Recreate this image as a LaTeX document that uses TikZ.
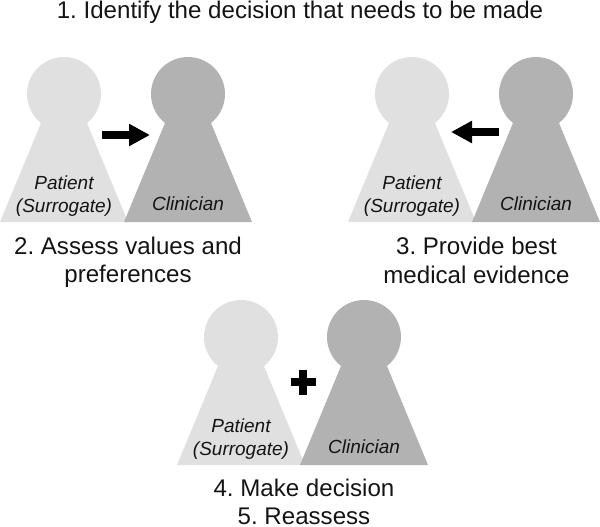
\documentclass[tikz,border=0pt]{standalone}
\usepackage{fontspec}
\setmainfont{Liberation Sans}
\usetikzlibrary{arrows.meta}
\tikzset{
  patientfill/.style={fill=black!12},
  clinicianfill/.style={fill=black!30},
  caption/.style={font=\frenchspacing\fontsize{24.1}{28.5}\selectfont,align=center,text=black!92,inner sep=0pt},
  role/.style={font=\frenchspacing\fontsize{19}{23.5}\selectfont\itshape,align=center,text=black!92,inner sep=0pt},
  flow/.style={line width=8pt,-{Triangle[length=21pt,width=21pt]}},
  plusbar/.style={line width=8pt}
}
\begin{document}
\begin{tikzpicture}[x=1pt,y=-1pt]
\useasboundingbox (0,0) rectangle (600,527);
% Two pawn figures side by side: patient head x, clinician head x, head y
\def\fig#1#2#3{%
  \fill[patientfill] (#1-23,#3+29) -- (#1+23,#3+29) -- (#1+64,#3+128) -- (#1-64,#3+128) -- cycle;
  \fill[patientfill] (#1,#3) circle[radius=37];
  \fill[clinicianfill] (#2-23,#3+29) -- (#2+23,#3+29) -- (#2+64,#3+128) -- (#2-64,#3+128) -- cycle;
  \fill[clinicianfill] (#2,#3) circle[radius=37];
}
\fig{64}{188}{94}
\fig{412}{536}{94}
\fig{241}{364}{337}

\node[caption,anchor=base] (step1) at (300,18.5) {1. Identify the decision that needs to be made};
\node[caption] (step2) at (128,262.5) {2. Assess values and\\preferences};
\node[caption] (step3) at (476.5,260.5) {3. Provide best\\medical evidence};
\node[caption] (step45) at (304,502) {4. Make decision\\5. Reassess};

\node[role] (p1) at (64,196) {Patient\\(Surrogate)};
\node[role] (c1) at (188,204) {Clinician};
\node[role] (p2) at (412,196) {Patient\\(Surrogate)};
\node[role] (c2) at (536,204) {Clinician};
\node[role] (p3) at (241,439) {Patient\\(Surrogate)};
\node[role] (c3) at (364,447) {Clinician};

\coordinate (a1s) at (102,135);
\coordinate (a1e) at (150,135);
\coordinate (a2s) at (499,132);
\coordinate (a2e) at (451,132);
\draw[flow] (a1s) -- (a1e);
\draw[flow] (a2s) -- (a2e);

\coordinate (plus) at (303,382);
\draw[plusbar] ([xshift=-12.5pt]plus) -- ([xshift=12.5pt]plus);
\draw[plusbar] ([yshift=-12.5pt]plus) -- ([yshift=12.5pt]plus);
\end{tikzpicture}
\end{document}
